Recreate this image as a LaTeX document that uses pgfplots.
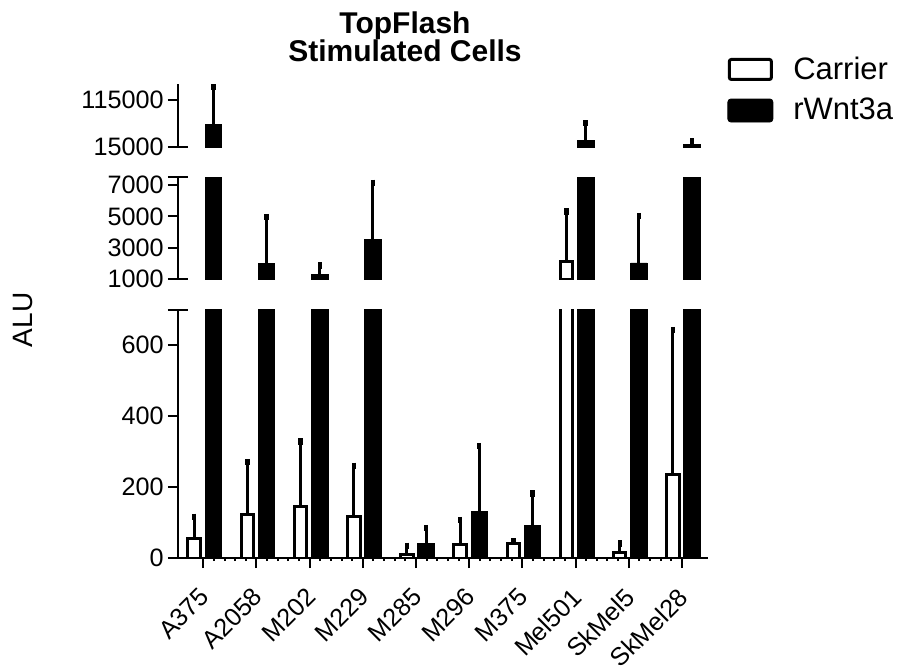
\documentclass[border=0pt]{standalone}
\usepackage{fontspec}
\setmainfont{Liberation Sans}
\usepackage{pgfplots}
\usepackage{pgfplotstable}
\pgfplotsset{compat=1.18}

% x = category index, y = mean, e = upper error
\pgfplotstableread{
x y e
0 54 62
1 123 147
2 145 183
3 118 142
4 11 23
5 39 68
6 41 5
7 2144 3170
8 16 25
9 234 408
}\carrier

\pgfplotstableread{
x y e
0 64000 78000
1 1980 2980
2 1310 565
3 3540 3600
4 41 43
5 132 183
6 91 91
7 29900 36000
8 2040 2980
9 21000 6500
}\wnt

\pgfplotsset{
  brk/.style={
    scale only axis, width=265pt,
    xmin=-0.475, xmax=9.49,
    anchor=south west,
    axis y line*=left,
    axis line style={line width=1pt, -},
    tick style={line width=1pt, black},
    major tick length=5pt,
    tick align=outside,
    ytick pos=left,
    scaled y ticks=false,
    yticklabel style={/pgf/number format/fixed,
      /pgf/number format/1000 sep={},
      /pgf/number format/assume math mode=true,
      font=\fontsize{12.6}{14}\selectfont, inner sep=2pt},
  },
  errs/.style={
    error bars/y dir=plus, error bars/y explicit,
    error bars/error bar style={line width=1.5pt, black},
    error bars/error mark options={line width=2.2pt, mark size=1.6pt, black}},
  carrier/.style={ybar, bar width=0.235, bar shift=0pt,
    draw=black, fill=white, line width=1.5pt, errs},
  wnt/.style={ybar, bar width=0.31, bar shift=0pt,
    draw=black, fill=black, line width=0.4pt, errs},
}

\begin{document}
\begin{tikzpicture}
\useasboundingbox (-89pt,-54pt) rectangle (362pt,279pt);

% lower segment 0..700 (tall bars cut at 800, their error bars dropped)
\begin{axis}[brk, name=bot, at={(0pt,0pt)}, height=124.25pt,
  ymin=0, ymax=700, ytick={0,200,400,600},
  axis x line*=bottom,
  xtick={0,...,9},
  xticklabels={A375,A2058,M202,M229,M285,M296,M375,Mel501,SkMel5,SkMel28},
  minor x tick num=4, minor tick length=1.5pt,
  xticklabel style={font=\fontsize{12.6}{14}\selectfont, inner sep=0pt,
    xshift=-2.5pt, yshift=-9pt, rotate=45, anchor=north east},
]
\addplot[carrier] table[x expr={\thisrow{x}-0.17}, y expr={min(\thisrow{y},800)},
  y error plus expr={\thisrow{y}>700 ? 0 : \thisrow{e}}] {\carrier};
\addplot[wnt] table[x expr={\thisrow{x}+0.19}, y expr={min(\thisrow{y},800)},
  y error plus expr={\thisrow{y}>700 ? 0 : \thisrow{e}}] {\wnt};
\end{axis}

% middle segment 1000..7500
\begin{axis}[brk, name=mid, at={(0pt,139.35pt)}, height=51.1pt,
  ymin=1000, ymax=7500, ytick={1000,3000,5000,7000},
  axis x line=none, restrict y to domain=1000:1000000,
]
\addplot[carrier] table[x expr={\thisrow{x}-0.17}, y=y, y error plus=e] {\carrier};
\addplot[wnt] table[x expr={\thisrow{x}+0.19}, y=y, y error plus=e] {\wnt};
\end{axis}

% upper segment 15000..148000
\begin{axis}[brk, name=upper, at={(0pt,205.35pt)}, height=31.45pt,
  ymin=15000, ymax=148000, ytick={15000,115000},
  axis x line=none, restrict y to domain=15000:1000000,
  legend style={draw=none, fill=none, inner sep=0pt,
    at={(1.036,1.51)}, anchor=north west,
    font=\fontsize{15.5}{17}\selectfont, row sep=4pt,
    /tikz/every odd column/.append style={column sep=8pt}},
  legend cell align=left,
]
\addlegendimage{legend image code/.code={
  \draw[line width=1.5pt, fill=white, rounded corners=1pt] (0pt,-5pt) rectangle (21pt,5pt);}}
\addlegendentry{Carrier}
\addlegendimage{legend image code/.code={
  \fill[black, rounded corners=1.5pt] (-0.75pt,-5.75pt) rectangle (21.75pt,5.75pt);}}
\addlegendentry{rWnt3a}
\addplot[carrier, forget plot] table[x expr={\thisrow{x}-0.17}, y=y, y error plus=e] {\carrier};
\addplot[wnt, forget plot] table[x expr={\thisrow{x}+0.19}, y=y, y error plus=e] {\wnt};
\end{axis}

% break caps on the y axis
\draw[line width=1pt] ([xshift=-5pt]bot.north west) -- ([xshift=5pt]bot.north west);
\draw[line width=1pt] (mid.south west) -- ([xshift=5pt]mid.south west);
\draw[line width=1pt] ([xshift=-5pt]mid.north west) -- ([xshift=5pt]mid.north west);
\draw[line width=1pt] (upper.south west) -- ([xshift=5pt]upper.south west);

\node[anchor=base, font=\bfseries\fontsize{15}{17}\selectfont] at (113.5pt,262.5pt) {TopFlash};
\node[anchor=base, font=\bfseries\fontsize{15}{17}\selectfont] at (113.5pt,248.5pt) {Stimulated Cells};
\node[rotate=90, font=\fontsize{14}{16}\selectfont] at (-77.5pt,119pt) {ALU};
\end{tikzpicture}
\end{document}
